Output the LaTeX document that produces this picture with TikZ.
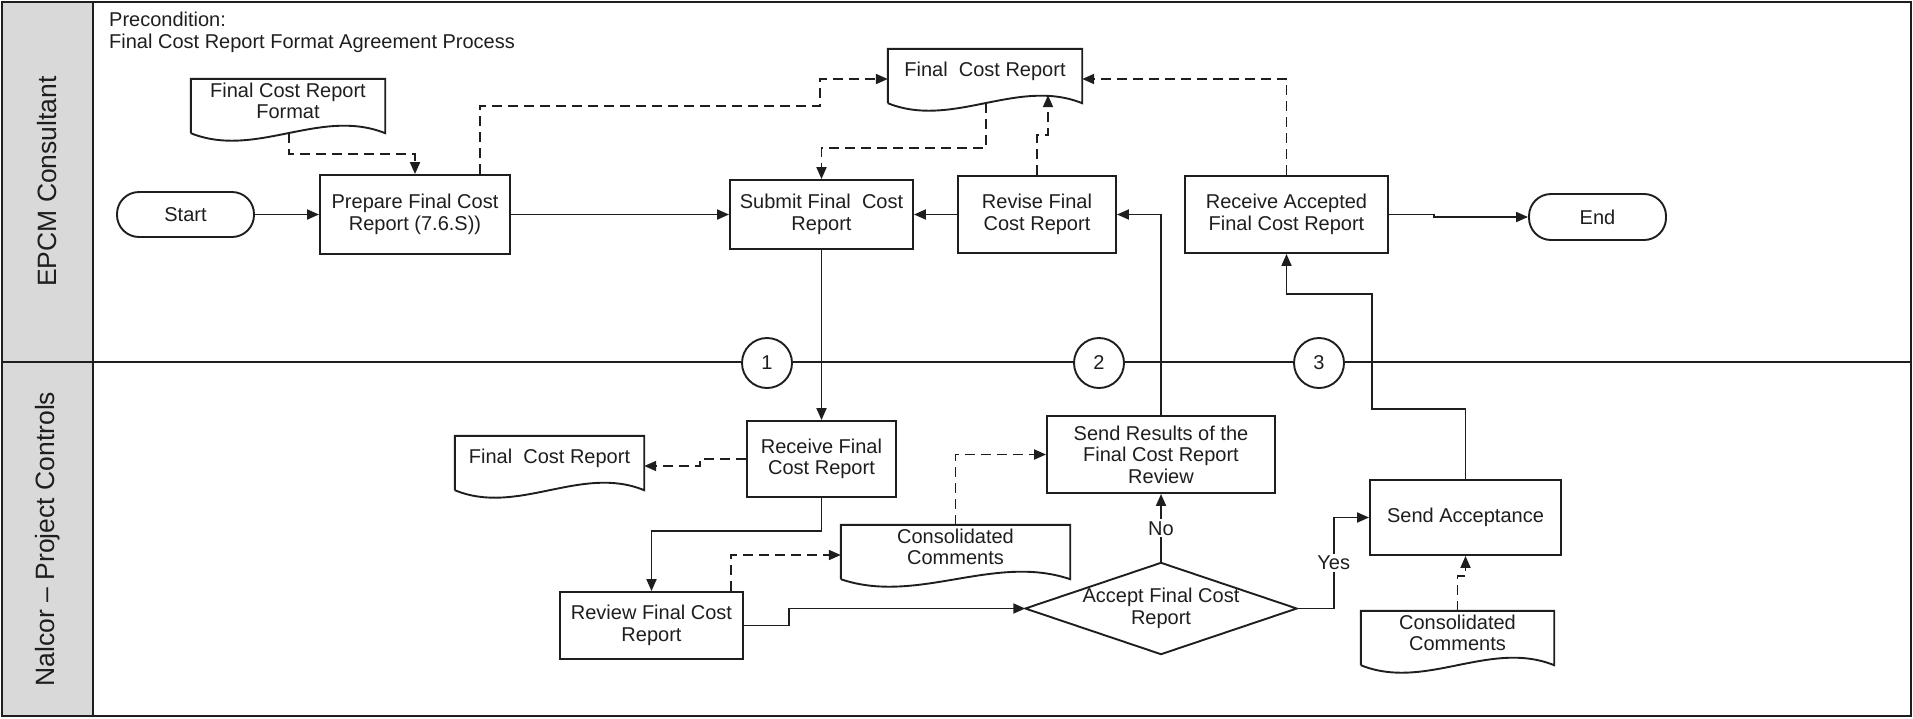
\documentclass[tikz,border=0pt]{standalone}
\usepackage{fontspec}
\setmainfont{Liberation Sans}
\usetikzlibrary{arrows.meta,calc}
\definecolor{ink}{HTML}{1E1E1E}
\definecolor{lanegray}{HTML}{D9D9D9}
\tikzset{
  inkline/.style={draw=ink, line width=1.9pt},
  txt/.style={text=ink, font=\fontsize{20}{21.5}\selectfont, align=center, inner sep=0pt},
  proc/.style={txt, inkline, rectangle, fill=white},
  term/.style={txt, inkline, rectangle, rounded corners=22pt, fill=white},
  docnode/.style={txt, rectangle},
  decision/.style={txt, rectangle},
  conn/.style={txt, inkline, circle, minimum size=50pt, fill=white},
  flow/.style={inkline, -{Triangle[length=12pt,width=10pt]}},
  dflow/.style={flow, dash pattern=on 10pt off 6pt},
  lbl/.style={txt, fill=white, inner sep=2pt},
  lane/.style={text=ink, font=\fontsize{26.5}{30}\selectfont, rotate=90},
}
% document symbol: straight top and sides, wavy bottom edge
\newcommand\docoutline[1]{%
  \draw[inkline] ($(#1.south west)+(0,10)$) -- (#1.north west) -- (#1.north east) -- ($(#1.south east)+(0,10)$)
    .. controls ($(#1.south east)!0.333!(#1.south west)+(0,-16)$) and ($(#1.south east)!0.667!(#1.south west)+(0,36)$) .. ($(#1.south west)+(0,10)$);}
\begin{document}
\begin{tikzpicture}[x=1pt,y=-1pt]
\useasboundingbox (0,0) rectangle (1913,718);
% swimlane frame
\fill[lanegray] (2,2) rectangle (93,716);
\draw[ink, line width=2.6pt] (2,2) rectangle (1911,716);
\draw[ink, line width=2.6pt] (93,2) -- (93,716);
\draw[ink, line width=2.2pt] (2,362) -- (1911,362);
\node[lane] (laneA) at (47.5,181.5) {EPCM Consultant};
\node[lane] (laneB) at (47.5,539) {Nalcor – Project Controls};
\node[txt, anchor=north west, align=left] (pre) at (109,12) {Precondition:\\Final Cost Report Format Agreement Process};

% upper lane
\node[term, minimum width=137pt, minimum height=45pt] (start) at (185.5,214.5) {Start};
\node[proc, minimum width=190pt, minimum height=79pt] (prep) at (415,214.5) {Prepare Final Cost\\Report (7.6.S))};
\node[proc, minimum width=183pt, minimum height=69pt] (submit) at (821.5,214.5) {Submit Final~ Cost\\Report};
\node[proc, minimum width=158pt, minimum height=77pt] (revise) at (1037,214.5) {Revise Final\\Cost Report};
\node[proc, minimum width=203pt, minimum height=77pt] (recacc) at (1286.5,214.5) {Receive Accepted\\Final Cost Report};
\node[term, minimum width=137pt, minimum height=46pt] (finish) at (1597.5,217) {End};
\node[docnode, minimum width=194pt, minimum height=44pt] (fmtdoc) at (288,101) {Final Cost Report\\Format};
\node[docnode, minimum width=194pt, minimum height=44pt] (topdoc) at (985,71) {Final~ Cost Report};

% lower lane
\node[docnode, minimum width=189pt, minimum height=44pt] (leftdoc) at (549.5,458) {Final~ Cost Report};
\node[docnode, minimum width=229pt, minimum height=44pt] (midcons) at (955.5,547) {Consolidated\\Comments};
\node[docnode, minimum width=193pt, minimum height=44pt] (rightcons) at (1457.5,633) {Consolidated\\Comments};
\node[proc, minimum width=149pt, minimum height=76pt] (recfin) at (821.5,459) {Receive Final\\Cost Report};
\node[proc, minimum width=228pt, minimum height=77pt] (sendres) at (1161,454.5) {Send Results of the\\Final Cost Report\\Review};
\node[proc, minimum width=183pt, minimum height=67pt] (review) at (651.5,625.5) {Review Final Cost\\Report};
\node[proc, minimum width=191pt, minimum height=75pt] (sendacc) at (1465.5,517.5) {Send Acceptance};
\node[decision, minimum width=271pt, minimum height=91pt] (accept) at (1161,608.5) {Accept Final Cost\\Report};
\draw[inkline] (accept.west) -- (accept.north) -- (accept.east) -- (accept.south) -- cycle;

\docoutline{fmtdoc}
\docoutline{topdoc}
\docoutline{leftdoc}
\docoutline{midcons}
\docoutline{rightcons}

% connectors
\draw[flow] (start.east) -- (prep.west);
\draw[dflow] ($(fmtdoc.south)+(1,10)$) |- ($(prep.north)+(0,-20)$) -- (prep.north);
\draw[dflow] ($(prep.north)+(65,0)$) -- ++(0,-68) -| ($(topdoc.west)+(-68,8)$) -- ($(topdoc.west)+(0,8)$);
\draw[dflow] ($(topdoc.south)+(1,10)$) |- ($(submit.north)+(0,-31)$) -- (submit.north);
\draw[flow] (prep.east) -- (submit.west);
\draw[flow] (revise.west) -- (submit.east);
\draw[dflow] (revise.north) -- ++(0,-40) -| ($(topdoc.south)+(63,2)$);
\draw[dflow] (recacc.north) |- ($(topdoc.east)+(0,8)$);
\draw[flow] (sendres.north) |- (revise.east);
\draw[flow] (recacc.east) -- ++(45,0) |- (finish.west);
\draw[flow] (submit.south) -- (recfin.north);
\draw[dflow] (recfin.west) -- ++(-46,0) |- ($(leftdoc.east)+(0,8)$);
\draw[flow] (recfin.south) -- ++(0,33) -| (review.north);
\draw[dflow] ($(review.north east)+(-13,0)$) |- ($(midcons.west)+(0,8)$);
\draw[dflow] (midcons.north) |- (sendres.west);
\draw[flow] (review.east) -- ++(45,0) |- (accept.west);
\draw[flow] (accept.north) -- node[lbl]{No} (sendres.south);
\draw[flow] (accept.east) -- ++(37,0) |- node[lbl, pos=0.25]{Yes} (sendacc.west);
\draw[dflow] (rightcons.north) -- ++(0,-35) -| (sendacc.south);
\draw[flow] (sendacc.north) -- ++(0,-70) -| ($(recacc.south)+(85.5,40)$) -| (recacc.south);

% off-page connectors on the lane boundary
\node[conn] (c1) at (767,363) {1};
\node[conn] (c2) at (1099,363) {2};
\node[conn] (c3) at (1319,363) {3};
\end{tikzpicture}
\end{document}
